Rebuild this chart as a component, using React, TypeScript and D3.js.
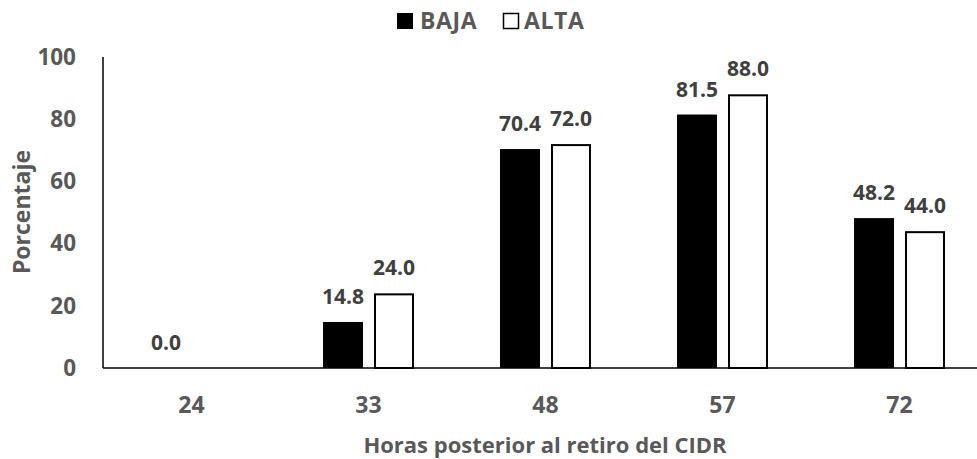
import React from "react";
import * as d3 from "d3";

const categories = ["24", "33", "48", "57", "72"];
const seriesNames = ["BAJA", "ALTA"];
const baja: (number | null)[] = [0.0, 14.8, 70.4, 81.5, 48.2];
const alta: (number | null)[] = [null, 24.0, 72.0, 88.0, 44.0];
const yTicks = [0, 20, 40, 60, 80, 100];
const yTitle = "Porcentaje";
const xTitle = "Horas posterior al retiro del CIDR";

const W = 977;
const H = 459;
const FONT = "'Open Sans', sans-serif";
const GREY = "#595959";
const LABEL = "#404040";

export default function App() {
  const left = 103;
  const right = 988;
  const top = 57;
  const bottom = 368;

  const x = d3.scaleBand<string>().domain(categories).range([left, right]).paddingInner(0.486).paddingOuter(0.243);
  const xs = d3.scaleBand<string>().domain(seriesNames).range([0, x.bandwidth()]).paddingInner(0.216).paddingOuter(0);
  const y = d3.scaleLinear().domain([0, 100]).range([bottom, top]);

  const series = [
    { name: "BAJA", values: baja, fill: "#000000" },
    { name: "ALTA", values: alta, fill: "#ffffff" },
  ];

  return (
    <svg width={W} height={H} style={{ display: "block", position: "absolute", left: 0, top: 0 }} fontFamily={FONT}>
      <rect x={0} y={0} width={W} height={H} fill="#fff" />
      {/* legend */}
      <g>
        <rect x={397} y={13} width={16} height={16} fill="#000" />
        <text x={420} y={29} fontSize={23} fontWeight={700} letterSpacing={0.6} fill={GREY}>BAJA</text>
        <rect x={503.5} y={13.5} width={15} height={15} fill="#fff" stroke="#000" strokeWidth={1.5} />
        <text x={524} y={29} fontSize={23} fontWeight={700} letterSpacing={0.6} fill={GREY}>ALTA</text>
      </g>
      {/* bars */}
      {series.map((s) =>
        categories.map((c, i) => {
          const v = s.values[i];
          if (v == null) return null;
          const bx = (x(c) as number) + (xs(s.name) as number);
          const bw = xs.bandwidth();
          const by = y(v);
          return (
            <g key={s.name + c}>
              {s.fill === "#000000" ? (
                <rect x={bx} y={by} width={bw} height={bottom - by} fill="#000" />
              ) : (
                <rect x={bx + 1} y={by + 1} width={bw - 2} height={bottom - by - 1} fill="#fff" stroke="#000" strokeWidth={2} />
              )}
              <text x={bx + bw / 2} y={by - 18} textAnchor="middle" fontSize={21} fontWeight={700} fill={LABEL}>
                {v.toFixed(1)}
              </text>
            </g>
          );
        })
      )}
      {/* axes */}
      <line x1={left} x2={left} y1={top} y2={bottom} stroke="#000" strokeWidth={1.5} />
      <line x1={left} x2={right} y1={bottom} y2={bottom} stroke="#000" strokeWidth={1.5} />
      {yTicks.map((t) => (
        <text key={t} x={76} y={y(t)} dy="0.35em" textAnchor="end" fontSize={22.5} fontWeight={700} fill={GREY}>
          {t}
        </text>
      ))}
      {categories.map((c) => (
        <text key={c} x={(x(c) as number) + x.bandwidth() / 2} y={413} textAnchor="middle" fontSize={23} fontWeight={700} fill={GREY}>
          {c}
        </text>
      ))}
      <text x={545} y={453} textAnchor="middle" fontSize={22} fontWeight={700} fill={GREY}>{xTitle}</text>
      <text transform={`translate(30,212) rotate(-90)`} textAnchor="middle" fontSize={23} fontWeight={700} fill={GREY}>{yTitle}</text>
    </svg>
  );
}
